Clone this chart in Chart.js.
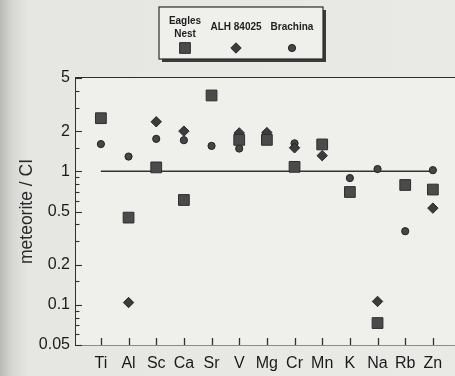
<!DOCTYPE html>
<html>
<head>
<meta charset="utf-8">
<script src="https://cdn.jsdelivr.net/npm/chart.js@4/dist/chart.umd.min.js"></script>
<style>
  html, body { margin: 0; padding: 0; }
  body {
    width: 455px; height: 376px; overflow: hidden;
    background: linear-gradient(to right, #b9b9b6 0px, #d6d6d3 12px, #e6e6e3 28px, #e9e9e6 100%);
  }
  canvas { display: block; }
</style>
</head>
<body>
<canvas id="c" width="455" height="376"></canvas>
<script>
// Elements on the x axis, in plotting order
const categories = ['Ti', 'Al', 'Sc', 'Ca', 'Sr', 'V', 'Mg', 'Cr', 'Mn', 'K', 'Na', 'Rb', 'Zn'];

// Abundance ratios normalised to CI chondrite (null = not measured)
const eaglesNest = [2.5, 0.45, 1.07, 0.61, 3.7, 1.72, 1.72, 1.08, 1.59, 0.70, 0.073, 0.79, 0.73];
const alh84025   = [null, 0.104, 2.35, 2.0, null, 1.94, 1.95, 1.5, 1.31, null, 0.106, null, 0.53];
const brachina   = [1.6, 1.29, 1.75, 1.71, 1.55, 1.48, null, 1.62, null, 0.89, 1.04, 0.356, 1.02];

// Labelled values on the log axis
const yTickLabels = [5, 2, 1, 0.5, 0.2, 0.1, 0.05];

// CI reference level
const ciLevel = 1;

const legendNames = [['Eagles', 'Nest'], ['ALH 84025'], ['Brachina']];

const toPoints = arr => arr
  .map((v, i) => ({ x: i, y: v }))
  .filter(p => p.y !== null);

const isLabelled = v => yTickLabels.some(l => Math.abs(v - l) / l < 1e-6);

const ink = '#2f2f2f';
const fontFamily = '"Liberation Sans", Arial, sans-serif';

// Plot background, inward tick marks and the boxed legend
const frameAndLegend = {
  id: 'frameAndLegend',
  beforeDatasetsDraw(chart) {
    const { ctx, chartArea: a } = chart;
    ctx.save();
    ctx.fillStyle = '#efefec';
    ctx.fillRect(a.left, a.top, a.right - a.left, a.bottom - a.top);
    ctx.restore();
  },
  afterDraw(chart) {
    const ctx = chart.ctx;
    const xs = chart.scales.x, ys = chart.scales.y;
    ctx.save();
    ctx.strokeStyle = ink;
    // inward ticks on the category axis
    ctx.lineWidth = 1.3;
    xs.ticks.forEach(t => {
      const px = Math.round(xs.getPixelForValue(t.value)) + 0.5;
      ctx.beginPath();
      ctx.moveTo(px, xs.top);
      ctx.lineTo(px, xs.top - 7);
      ctx.stroke();
    });
    // inward ticks on the log axis, longer at labelled values
    ctx.lineWidth = 1.1;
    ys.ticks.forEach(t => {
      const py = Math.round(ys.getPixelForValue(t.value)) + 0.5;
      const len = isLabelled(t.value) ? 6 : 3.5;
      ctx.beginPath();
      ctx.moveTo(ys.right, py);
      ctx.lineTo(ys.right + len, py);
      ctx.stroke();
    });

    // legend box with a drop shadow on the right and bottom
    const x0 = 159, y0 = 7, w = 164, h = 52;
    ctx.fillStyle = '#3a3a3a';
    ctx.fillRect(x0 + 3, y0 + 3, w, h);
    ctx.fillStyle = '#efefec';
    ctx.fillRect(x0, y0, w, h);
    ctx.strokeStyle = '#2a2a2a';
    ctx.lineWidth = 1.2;
    ctx.strokeRect(x0, y0, w, h);

    const centers = [185, 236, 292];
    ctx.font = 'bold 10px ' + fontFamily;
    ctx.textAlign = 'center';
    ctx.textBaseline = 'middle';
    legendNames.forEach((lines, i) => {
      ctx.fillStyle = '#1e1e1e';
      if (lines.length === 2) {
        ctx.fillText(lines[0], centers[i], 21);
        ctx.fillText(lines[1], centers[i], 34);
      } else {
        ctx.fillText(lines[0], centers[i], 27);
      }
      const ds = chart.data.datasets[i];
      ctx.fillStyle = ds.backgroundColor;
      ctx.strokeStyle = ds.borderColor;
      ctx.lineWidth = ds.borderWidth;
      Chart.helpers.drawPoint(ctx, {
        pointStyle: ds.pointStyle,
        radius: ds.pointRadius,
        borderWidth: ds.borderWidth,
        rotation: 0
      }, centers[i], 48);
    });
    ctx.restore();
  }
};

const markerBase = {
  showLine: false,
  borderWidth: 1,
  pointHoverRadius: 0
};

new Chart(document.getElementById('c'), {
  type: 'scatter',
  data: {
    datasets: [
      Object.assign({}, markerBase, {
        label: 'Eagles Nest',
        data: toPoints(eaglesNest),
        pointStyle: 'rect',
        pointRadius: 7.6,
        backgroundColor: '#4b4b4b',
        borderColor: '#2e2e2e'
      }),
      Object.assign({}, markerBase, {
        label: 'ALH 84025',
        data: toPoints(alh84025),
        pointStyle: 'rectRot',
        pointRadius: 5.2,
        backgroundColor: '#3c3c3c',
        borderColor: '#262626'
      }),
      Object.assign({}, markerBase, {
        label: 'Brachina',
        data: toPoints(brachina),
        pointStyle: 'circle',
        pointRadius: 3.6,
        backgroundColor: '#464646',
        borderColor: '#222222'
      }),
      {
        type: 'line',
        label: 'CI',
        data: [{ x: 0, y: ciLevel }, { x: categories.length - 1, y: ciLevel }],
        borderColor: '#333333',
        borderWidth: 1.5,
        pointRadius: 0,
        fill: false
      }
    ]
  },
  options: {
    responsive: false,
    animation: false,
    events: [],
    layout: { autoPadding: false, padding: { top: 78, left: 0, right: 0, bottom: 0 } },
    plugins: {
      legend: { display: false },
      tooltip: { enabled: false }
    },
    scales: {
      x: {
        type: 'linear',
        position: 'bottom',
        min: -0.9,
        max: 12.8,
        afterBuildTicks: s => { s.ticks = categories.map((_, i) => ({ value: i })); },
        afterFit: s => { s.height = 31; s.paddingLeft = 0; s.paddingRight = 0; },
        ticks: {
          autoSkip: false,
          maxRotation: 0,
          padding: 9,
          color: '#1a1a1a',
          font: { family: fontFamily, size: 16 },
          callback: v => categories[v] !== undefined ? categories[v] : ''
        },
        grid: { drawOnChartArea: false, drawTicks: false },
        border: { color: ink, width: 1.5 }
      },
      xTop: {
        type: 'linear',
        position: 'top',
        min: -0.9,
        max: 12.8,
        afterFit: s => { s.height = 0; s.paddingLeft = 0; s.paddingRight = 0; },
        ticks: { display: false },
        grid: { drawOnChartArea: false, drawTicks: false },
        border: { color: ink, width: 1.5 }
      },
      y: {
        type: 'logarithmic',
        position: 'left',
        min: 0.05,
        max: 5,
        afterFit: s => { s.width = 76; },
        ticks: {
          autoSkip: false,
          padding: 6,
          color: '#1a1a1a',
          font: { family: fontFamily, size: 16 },
          callback: v => {
            const t = yTickLabels.find(l => Math.abs(v - l) / l < 1e-6);
            return t !== undefined ? String(t) : '';
          }
        },
        grid: { drawOnChartArea: false, drawTicks: false },
        border: { color: ink, width: 1.5 },
        title: {
          display: true,
          text: 'meteorite / CI',
          color: '#2a2a2a',
          font: { family: fontFamily, size: 17.5 },
          padding: { top: 17, bottom: 0 }
        }
      }
    }
  },
  plugins: [frameAndLegend]
});
</script>
</body>
</html>
